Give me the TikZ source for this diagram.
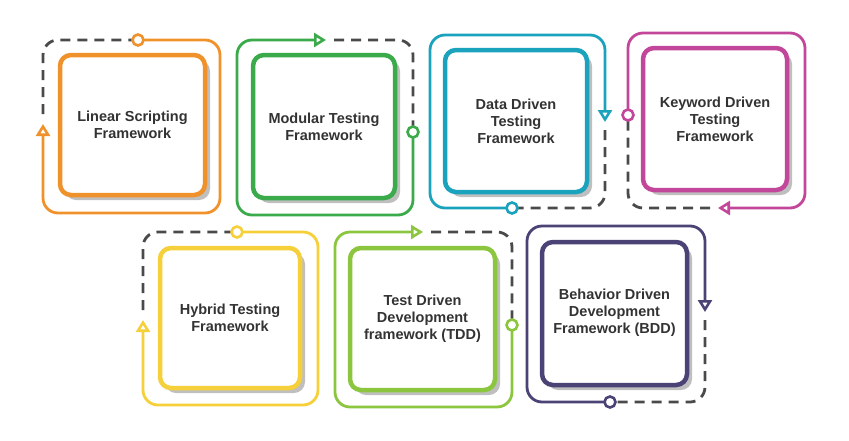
\documentclass[tikz,border=0pt]{standalone}
\usepackage{fontspec}
\setmainfont{Liberation Sans}
\usetikzlibrary{arrows.meta}
\definecolor{fworange}{HTML}{F0922B}
\definecolor{fwgreen}{HTML}{3BAA4A}
\definecolor{fwcyan}{HTML}{1BA3BE}
\definecolor{fwmagenta}{HTML}{C2479A}
\definecolor{fwyellow}{HTML}{F5D03A}
\definecolor{fwlime}{HTML}{8CC63F}
\definecolor{fwpurple}{HTML}{4B4275}
\definecolor{fwgray}{HTML}{4A4A4A}
\tikzset{
  card/.style={draw=#1, line width=4.5pt, fill=white, rounded corners=11pt},
  cardshadow/.style={fill=black!25, rounded corners=11pt},
  loop/.style={draw=#1, line width=2.8pt, rounded corners=15pt, -{Triangle[open,length=12pt,width=14pt,line width=2.6pt]}},
  gap/.style={draw=fwgray, line width=2.8pt, rounded corners=15pt, dash pattern=on 10pt off 7pt},
  ring/.style={circle, draw=#1, line width=2.6pt, fill=white, inner sep=0pt, minimum size=11pt},
  label/.style={font=\bfseries\fontsize{14.5}{17}\selectfont, text=black!80, align=center}
}
\begin{document}
\begin{tikzpicture}[x=1pt,y=-1pt]
\useasboundingbox (0,0) rectangle (849,440);

% Linear Scripting
\draw[gap] (43,114) -- (43,40) -- (132,40);
\draw[loop=fworange] (138,40) -- (220,40) -- (220,213) -- (43,213) -- (43,124);
\node[ring=fworange] (linring) at (138,40) {};
\fill[cardshadow] (65,60) rectangle (210,200);
\draw[card=fworange] (60,55) rectangle (205,195);
\node[label] (lin) at (132.5,125) {Linear Scripting\\Framework};

% Modular Testing
\draw[gap] (334,40) -- (413,40) -- (413,126);
\draw[loop=fwgreen] (413,132) -- (413,215) -- (237,215) -- (237,40) -- (326,40);
\node[ring=fwgreen] (modring) at (413,132) {};
\fill[cardshadow] (258,60) rectangle (400,203);
\draw[card=fwgreen] (253,55) rectangle (395,198);
\node[label] (mod) at (324,126.5) {Modular Testing\\Framework};

% Data Driven
\draw[gap] (605,130) -- (605,208) -- (518,208);
\draw[loop=fwcyan] (512,208) -- (430,208) -- (430,35) -- (605,35) -- (605,122);
\node[ring=fwcyan] (dataring) at (512,208) {};
\fill[cardshadow] (450,55) rectangle (592,197);
\draw[card=fwcyan] (445,50) rectangle (587,192);
\node[label] (data) at (516,121) {Data Driven\\Testing\\Framework};

% Keyword Driven
\draw[gap] (710,208) -- (628,208) -- (628,121);
\draw[loop=fwmagenta] (628,115) -- (628,33) -- (805,33) -- (805,208) -- (718,208);
\node[ring=fwmagenta] (keyring) at (628,115) {};
\fill[cardshadow] (648,53) rectangle (792,195);
\draw[card=fwmagenta] (643,48) rectangle (787,190);
\node[label] (key) at (715,119) {Keyword Driven\\Testing\\Framework};

% Hybrid Testing
\draw[gap] (143,310) -- (143,232) -- (231,232);
\draw[loop=fwyellow] (237,232) -- (318,232) -- (318,405) -- (143,405) -- (143,320);
\node[ring=fwyellow] (hybring) at (237,232) {};
\fill[cardshadow] (165,253) rectangle (305,393);
\draw[card=fwyellow] (160,248) rectangle (300,388);
\node[label] (hyb) at (230,318) {Hybrid Testing\\Framework};

% Test Driven
\draw[gap] (431,232) -- (512,232) -- (512,319);
\draw[loop=fwlime] (512,325) -- (512,407) -- (335,407) -- (335,232) -- (423,232);
\node[ring=fwlime] (tddring) at (512,325) {};
\fill[cardshadow] (355,253) rectangle (500,395);
\draw[card=fwlime] (350,248) rectangle (495,390);
\node[label] (tdd) at (422.5,319) {Test Driven\\Development\\framework (TDD)};

% Behavior Driven
\draw[gap] (705,320) -- (705,402) -- (616,402);
\draw[loop=fwpurple] (610,402) -- (527,402) -- (527,226) -- (705,226) -- (705,312);
\node[ring=fwpurple] (bddring) at (610,402) {};
\fill[cardshadow] (547,247) rectangle (692,390);
\draw[card=fwpurple] (542,242) rectangle (687,385);
\node[label] (bdd) at (614.5,313) {Behavior Driven\\Development\\Framework (BDD)};
\end{tikzpicture}
\end{document}
